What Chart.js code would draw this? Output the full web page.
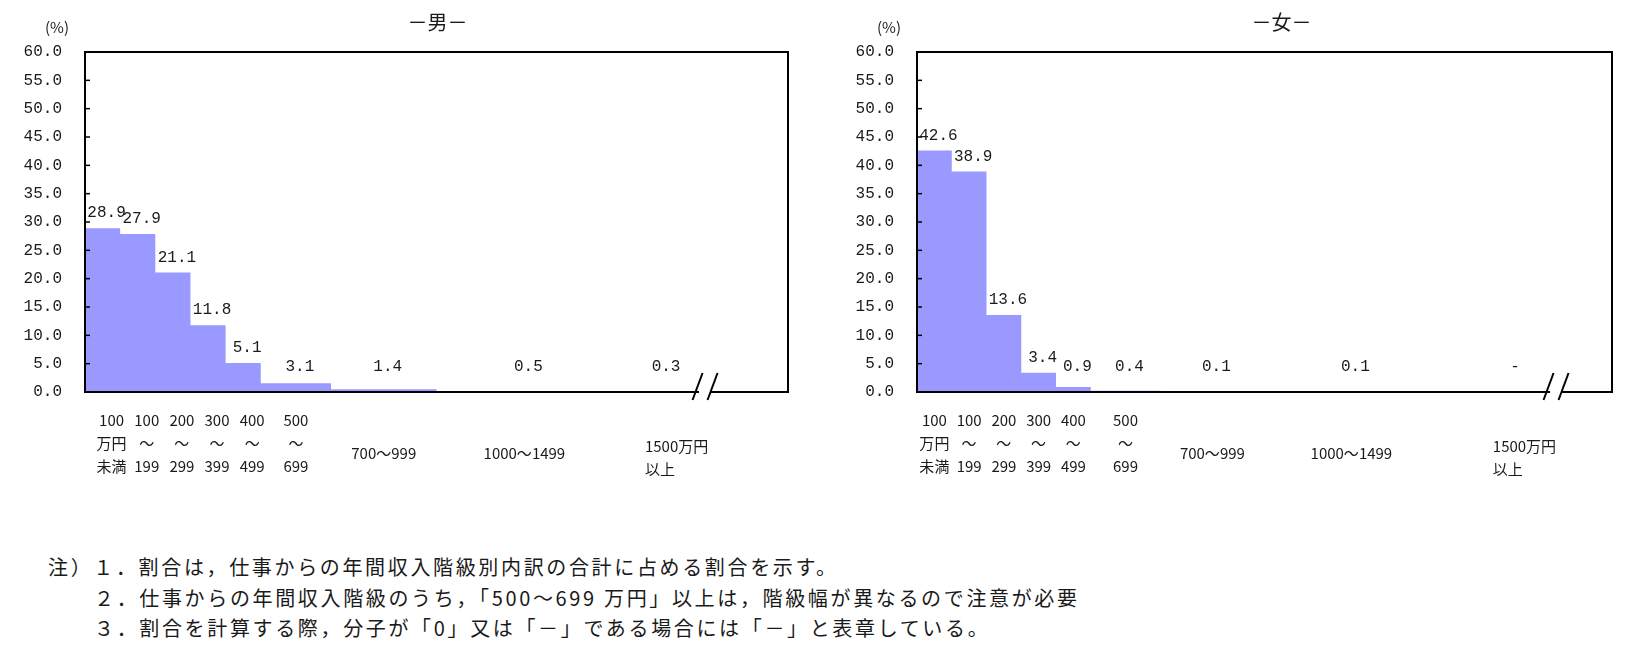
<!DOCTYPE html>
<html lang="ja">
<head>
<meta charset="utf-8">
<script src="https://cdn.jsdelivr.net/npm/chart.js@4.4.1/dist/chart.umd.min.js"></script>
<style>
  body { margin: 0; background: #fff; width: 1640px; height: 658px; overflow: hidden; position: relative; }
  canvas { position: absolute; top: 0; }
  #notes { position: absolute; left: 48px; top: 552px; font: 20px "Noto Sans CJK JP", sans-serif; letter-spacing: 2.65px; line-height: 30.5px; color: #1a1a1a; white-space: nowrap; }
  #notes .ind { padding-left: 46px; }
</style>
</head>
<body>
<canvas id="men" width="810" height="490" style="left:0"></canvas>
<canvas id="women" width="800" height="490" style="left:832px"></canvas>
<div id="notes">
  <div>注）１．割合は，仕事からの年間収入階級別内訳の合計に占める割合を示す。</div>
  <div class="ind">２．仕事からの年間収入階級のうち，「500～699 万円」以上は，階級幅が異なるので注意が必要</div>
  <div class="ind">３．割合を計算する際，分子が「0」又は「－」である場合には「－」と表章している。</div>
</div>
<script>
// class boundaries (万円), last class is open ended (1500万円以上)
const binEdges = [0, 100, 200, 300, 400, 500, 700, 1000, 1500];
const classLabels = [
  ["100", "万円", "未満"],
  ["100", "～", "199"],
  ["200", "～", "299"],
  ["300", "～", "399"],
  ["400", "～", "499"],
  ["500", "～", "699"],
  ["700～999"],
  ["1000～1499"],
  ["1500万円", "以上"]
];
// share of each class (%), null = "-"
const menValues = [28.9, 27.9, 21.1, 11.8, 5.1, 3.1, 1.4, 0.5, 0.3];
const womenValues = [42.6, 38.9, 13.6, 3.4, 0.9, 0.4, 0.1, 0.1, null];

const barColor = "rgb(153,153,255)";
const numFont = '16px "Liberation Mono", monospace';
const jpFont = '15px "Noto Sans CJK JP", sans-serif';

// bar height per 100万円 of class width (histogram)
function stepPoints(values) {
  const pts = [];
  for (let i = 0; i < binEdges.length - 1; i++) {
    const w = (binEdges[i + 1] - binEdges[i]) / 100;
    pts.push({ x: binEdges[i], y: (values[i] || 0) / w });
  }
  pts.push({ x: binEdges[binEdges.length - 1], y: 0 });
  return pts;
}

const decor = {
  id: "decor",
  afterDraw(chart, args, o) {
    const { ctx, chartArea: a, scales: { x, y } } = chart;
    const vals = o.values;
    ctx.save();

    // frame
    ctx.strokeStyle = "#000";
    ctx.lineWidth = 2;
    ctx.strokeRect(a.left, a.top, a.right - a.left, a.bottom - a.top);

    // inward tick marks
    ctx.lineWidth = 1.5;
    y.ticks.forEach(t => {
      if (t.value > 0 && t.value < 60) {
        const py = y.getPixelForValue(t.value);
        ctx.beginPath();
        ctx.moveTo(a.left, py);
        ctx.lineTo(a.left + 5, py);
        ctx.stroke();
      }
    });

    // axis break
    const bx = x.getPixelForValue(o.breakAt);
    ctx.fillStyle = "#fff";
    ctx.fillRect(bx - 6, a.bottom - 2, 12, 4);
    ctx.lineWidth = 2;
    [-7.5, 7.5].forEach(d => {
      ctx.beginPath();
      ctx.moveTo(bx + d - 5, a.bottom + 8);
      ctx.lineTo(bx + d + 5, a.bottom - 19);
      ctx.stroke();
    });

    // value labels
    ctx.fillStyle = "#1a1a1a";
    ctx.font = numFont;
    ctx.textAlign = "center";
    ctx.textBaseline = "middle";
    const n = binEdges.length - 1;
    for (let i = 0; i < vals.length; i++) {
      const txt = vals[i] == null ? "-" : vals[i].toFixed(1);
      let cx, top;
      if (i < n) {
        cx = x.getPixelForValue((binEdges[i] + binEdges[i + 1]) / 2) + 4;
        top = y.getPixelForValue((vals[i] || 0) / ((binEdges[i + 1] - binEdges[i]) / 100));
      } else {
        cx = x.getPixelForValue(o.openValue);
        top = a.bottom;
      }
      ctx.fillText(txt, cx, Math.min(top - 15, 367));
    }

    // class labels under the axis
    ctx.font = jpFont;
    classLabels.forEach((lines, i) => {
      let cx;
      if (i < n) {
        const narrow = binEdges[i + 1] - binEdges[i] === 100;
        cx = x.getPixelForValue((binEdges[i] + binEdges[i + 1]) / 2) + (narrow ? o.nudge : 0);
        ctx.textAlign = "center";
      } else {
        cx = x.getPixelForValue(o.openStart);
        ctx.textAlign = "left";
      }
      const ys = lines.length === 3 ? [420, 443, 466] : lines.length === 2 ? [446, 469] : [453];
      lines.forEach((s, k) => ctx.fillText(s, cx, ys[k]));
    });

    // title and unit
    ctx.textAlign = "center";
    ctx.font = '20px "Noto Sans CJK JP", sans-serif';
    ctx.fillText(o.title, (a.left + a.right) / 2 + o.titleShift, 22);
    ctx.font = jpFont;
    ctx.fillText("(%)", a.left - 28, 27);
    ctx.restore();
  }
};

function makeChart(id, values, opts, padRight) {
  return new Chart(document.getElementById(id), {
    type: "line",
    data: {
      datasets: [{
        data: stepPoints(values),
        stepped: "before",
        fill: "origin",
        backgroundColor: barColor,
        borderColor: "rgba(0,0,0,0)",
        borderWidth: 0,
        pointRadius: 0
      }]
    },
    options: {
      responsive: false,
      animation: false,
      layout: { padding: { top: 52, right: padRight, bottom: 98, left: 0 } },
      scales: {
        x: { type: "linear", min: 0, max: 2000, display: false },
        y: {
          min: 0, max: 60,
          afterFit: s => { s.width = 85; },
          grid: { display: false, drawTicks: false },
          border: { display: false },
          ticks: {
            stepSize: 5,
            padding: 23,
            color: "#1a1a1a",
            font: { family: '"Liberation Mono", monospace', size: 16 },
            callback: v => v.toFixed(1)
          }
        }
      },
      plugins: {
        legend: { display: false },
        tooltip: { enabled: false },
        decor: Object.assign({ values }, opts)
      }
    },
    plugins: [decor]
  });
}

makeChart("men", menValues, { title: "－男－", titleShift: 1, nudge: 9, openValue: 1653, openStart: 1593, breakAt: 1764 }, 22);
makeChart("women", womenValues, { title: "－女－", titleShift: 17, nudge: 0, openValue: 1721, openStart: 1657, breakAt: 1839 }, 20);
</script>
</body>
</html>
